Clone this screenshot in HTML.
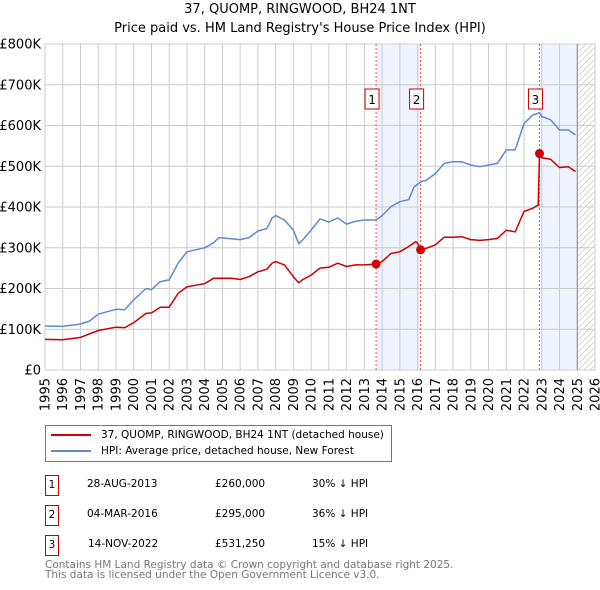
<!DOCTYPE html>
<html><head><meta charset="utf-8"><style>
body{margin:0;background:#fff;font-family:"Liberation Sans","DejaVu Sans",sans-serif;}
#wrap{position:relative;width:600px;height:590px;overflow:hidden;}
svg text{font-family:"DejaVu Sans","Liberation Sans",sans-serif;}
</style></head><body>
<div id="wrap">
<svg id="chart" width="600" height="590"></svg>
</div>
<script>
const hpiYears=[1995,1996,1997,1997.5,1998,1999,1999.5,2000,2000.7,2001,2001.5,2002,2002.5,2003,2003.5,2004,2004.5,2004.8,2005.5,2006,2006.5,2007,2007.5,2007.8,2008,2008.5,2009,2009.3,2009.5,2010,2010.5,2011,2011.5,2012,2012.5,2013,2013.66,2014,2014.5,2015,2015.5,2015.8,2016.2,2016.5,2017,2017.5,2018,2018.5,2019,2019.5,2020,2020.5,2021,2021.5,2022,2022.5,2022.87,2023,2023.5,2024,2024.5,2024.9];
const hpiValues=[108,107,113,120,137,149,148,172,200,197,217,221,262,290,295,300,312,325,322,320,325,341,347,373,379,368,343,310,318,343,371,363,373,358,365,368,368,379,401,413,418,449,462,466,482,507,511,511,503,499,503,507,540,540,605,626,631,622,614,589,589,577];
const priceYears=[1995,1996,1997,1998,1999,1999.5,2000,2000.7,2001,2001.5,2002,2002.5,2003,2003.5,2004,2004.5,2005.5,2006,2006.5,2007,2007.5,2007.8,2008,2008.5,2009,2009.3,2009.5,2010,2010.5,2011,2011.5,2012,2012.5,2013,2013.66,2014,2014.5,2015,2015.5,2015.9,2016,2016.17,2016.5,2017,2017.5,2018,2018.5,2019,2019.5,2020,2020.5,2021,2021.5,2022,2022.5,2022.8,2022.87,2023,2023.5,2024,2024.5,2024.9];
const priceValues=[75,74,80,97,105,104,116,139,140,154,154,188,204,208,212,225,225,222,229,241,247,262,266,258,229,214,221,233,250,252,262,254,258,258,260,266,286,290,303,315,311,295,299,307,326,326,327,320,318,320,323,343,339,389,397,405,531.25,521,517,497,499,487];
const saleLabels=["1","2","3"];
const saleYears=[2013.66,2016.17,2022.87];
const saleValues=[260,295,531.25];
const yTicks=[0,100,200,300,400,500,600,700,800];
const yTickLabels=["£0","£100K","£200K","£300K","£400K","£500K","£600K","£700K","£800K"];
const xTicks=[1995,1996,1997,1998,1999,2000,2001,2002,2003,2004,2005,2006,2007,2008,2009,2010,2011,2012,2013,2014,2015,2016,2017,2018,2019,2020,2021,2022,2023,2024,2025,2026];

const NS="http://www.w3.org/2000/svg";
const svg=document.getElementById('chart');
const X0=45,X1=595,Y0=370,Y1=44;
const xs=y=>X0+(y-1995)/(2026-1995)*(X1-X0);
const ys=v=>Y0-v/800*(Y0-Y1);
function mk(tag,attrs,parent){const e=document.createElementNS(NS,tag);for(const k in attrs)e.setAttribute(k,attrs[k]);(parent||svg).appendChild(e);return e;}

const defs=mk('defs',{});
const pat=mk('pattern',{id:'hatch',width:6,height:6,patternUnits:'userSpaceOnUse'},defs);
mk('path',{d:'M0,6 L6,0',stroke:'#ccc','stroke-width':0.8},pat);

let b=mk('rect',{x:xs(saleYears[0]),y:Y1,width:xs(saleYears[1])-xs(saleYears[0]),height:Y0-Y1,fill:'#eef3fc'});


b=mk('rect',{x:xs(saleYears[2]),y:Y1,width:xs(2025)-xs(saleYears[2]),height:Y0-Y1,fill:'#eef3fc'});


b=mk('rect',{x:xs(2025),y:Y1,width:X1-xs(2025),height:Y0-Y1,fill:'url(#hatch)'});



xTicks.forEach(t=>{
  const l=mk('line',{x1:xs(t),x2:xs(t),y1:Y1,y2:Y0,stroke:'#ccc','stroke-width':1});
  
  
  const tx=mk('text',{x:0,y:0,'font-size':13,fill:'#000','text-anchor':'end',transform:`translate(${xs(t)+4.5},${Y0+8}) rotate(-90)`});
  tx.textContent=t;
  
  
});
yTicks.forEach((t,i)=>{
  const l=mk('line',{x1:X0,x2:X1,y1:ys(t),y2:ys(t),stroke:'#ccc','stroke-width':1});
  
  
  const tx=mk('text',{x:X0-4,y:ys(t)+4.5,'font-size':13,fill:'#000','text-anchor':'end'});
  tx.textContent=yTickLabels[i];
  
  
});
let dl=mk('line',{x1:xs(2025),x2:xs(2025),y1:Y1,y2:Y0,stroke:'#888','stroke-width':1});



saleYears.forEach((s,i)=>{
  const l=mk('line',{x1:xs(s),x2:xs(s),y1:Y1,y2:Y0,stroke:'#e55','stroke-width':1,'stroke-dasharray':'2,2'});
  
  
});

function path(xa,va,color,name){
  const d=xa.map((x,i)=>(i?'L':'M')+xs(x).toFixed(1)+','+ys(va[i]).toFixed(1)).join(' ');
  const p=mk('path',{d:d,fill:'none',stroke:color,'stroke-width':1.5,'stroke-linejoin':'round'});
  
  
}
path(hpiYears,hpiValues,'#5b8bd0','hpi-line');
path(priceYears,priceValues,'#cc0000','price-paid-line');

saleYears.forEach((s,i)=>{
  const c=mk('circle',{cx:xs(s),cy:ys(saleValues[i]),r:4.5,fill:'#cc0000'});
  
  
  const g=mk('g',{});
  
  
  mk('rect',{x:xs(s)-11,y:89,width:14,height:20,fill:'#fff',stroke:'#cc0000','stroke-width':1},g);
  const t=mk('text',{x:xs(s)-4,y:104,'font-size':12,'text-anchor':'middle',fill:'#000'},g);
  t.textContent=saleLabels[i];
});
</script>
<div style="position:absolute;left:0;top:0;width:600px;text-align:center;font-family:'DejaVu Sans',sans-serif;font-size:13px;line-height:19px;">37, QUOMP, RINGWOOD, BH24 1NT<br>Price paid vs. HM Land Registry's House Price Index (HPI)</div>
<div style="position:absolute;left:45px;top:425px;width:345px;height:35px;border:1px solid #777;font-family:'DejaVu Sans',sans-serif;font-size:10.5px;">
 <div style="position:absolute;left:5px;top:3px;white-space:nowrap"><span style="display:inline-block;width:40px;height:2px;background:#cc0000;vertical-align:middle;margin-right:10px"></span>37, QUOMP, RINGWOOD, BH24 1NT (detached house)</div>
 <div style="position:absolute;left:5px;top:19px;white-space:nowrap"><span style="display:inline-block;width:40px;height:2px;background:#5b8bd0;vertical-align:middle;margin-right:10px"></span>HPI: Average price, detached house, New Forest</div>
</div>
<div style="position:absolute;left:0;top:0;font-family:'DejaVu Sans',sans-serif;font-size:10.5px;">
 <div>
  <div style="position:absolute;left:45px;top:475px;width:12px;height:19px;border:1px solid #cc0000;text-align:center;line-height:19px">1</div>
  <div style="position:absolute;left:87px;top:478px;white-space:nowrap">28-AUG-2013</div>
  <div style="position:absolute;left:215px;top:478px">£260,000</div>
  <div style="position:absolute;left:312px;top:478px;white-space:nowrap">30% ↓ HPI</div>
 </div>
 <div>
  <div style="position:absolute;left:45px;top:505px;width:12px;height:19px;border:1px solid #cc0000;text-align:center;line-height:19px">2</div>
  <div style="position:absolute;left:87px;top:508px;white-space:nowrap">04-MAR-2016</div>
  <div style="position:absolute;left:215px;top:508px">£295,000</div>
  <div style="position:absolute;left:312px;top:508px;white-space:nowrap">36% ↓ HPI</div>
 </div>
 <div>
  <div style="position:absolute;left:45px;top:535px;width:12px;height:19px;border:1px solid #cc0000;text-align:center;line-height:19px">3</div>
  <div style="position:absolute;left:88px;top:538px;white-space:nowrap">14-NOV-2022</div>
  <div style="position:absolute;left:215px;top:538px">£531,250</div>
  <div style="position:absolute;left:312px;top:538px;white-space:nowrap">15% ↓ HPI</div>
 </div>
</div>
<div style="position:absolute;left:45px;top:560px;font-family:'DejaVu Sans',sans-serif;font-size:10.5px;color:#777;line-height:10px;white-space:nowrap">Contains HM Land Registry data © Crown copyright and database right 2025.<br>This data is licensed under the Open Government Licence v3.0.</div>
</body></html>
